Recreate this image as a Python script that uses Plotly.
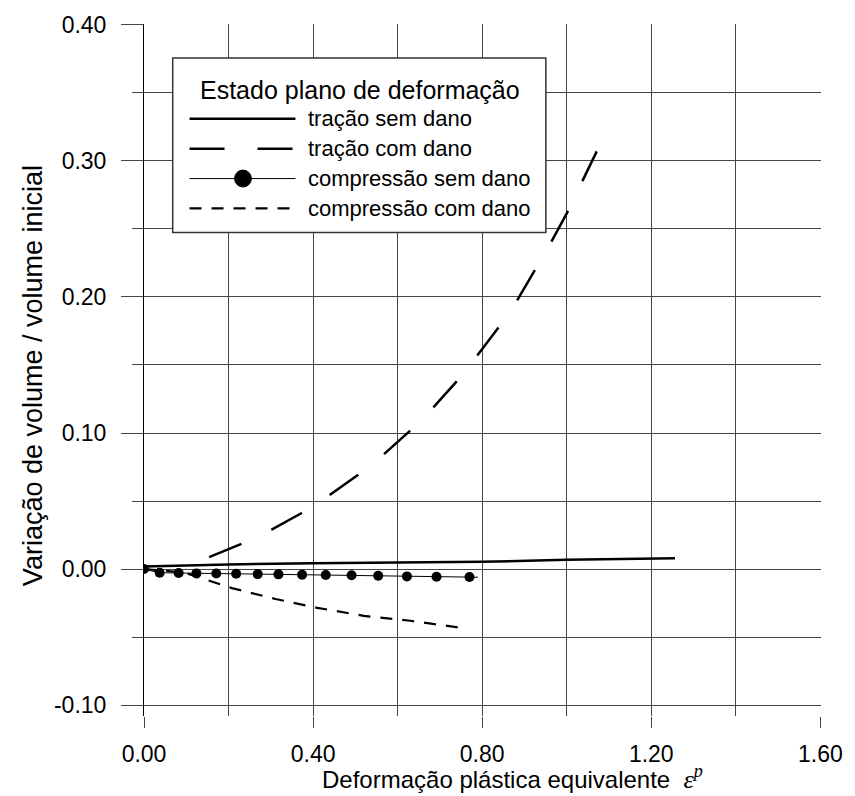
import plotly.graph_objects as go

# Volume change vs. equivalent plastic strain (plane strain state)
tracao_sem_x = [0.0, 0.2, 0.4, 0.8, 1.0, 1.256]
tracao_sem_y = [0.0018, 0.0034, 0.0042, 0.0053, 0.0068, 0.0080]

tracao_com_x = [0.154, 0.229, 0.302, 0.372, 0.437, 0.505, 0.566, 0.627, 0.685,
                0.737, 0.786, 0.835, 0.880, 0.922, 0.961, 1.001, 1.036, 1.071]
tracao_com_y = [0.0088, 0.0183, 0.029, 0.041, 0.054, 0.069, 0.084, 0.101, 0.119,
                0.137, 0.156, 0.176, 0.196, 0.218, 0.239, 0.262, 0.284, 0.307]

comp_sem_x = [0.0, 0.037, 0.082, 0.124, 0.171, 0.218, 0.269, 0.318, 0.374,
              0.430, 0.491, 0.554, 0.622, 0.692, 0.770]
comp_sem_y = [0.0, -0.0027, -0.0029, -0.0032, -0.0033, -0.0034, -0.0037, -0.0039,
              -0.0042, -0.0044, -0.0046, -0.0049, -0.0054, -0.0056, -0.0059]
comp_sem_line_x = comp_sem_x + [0.790]
comp_sem_line_y = comp_sem_y + [-0.0060]

comp_com_x = [0.0, 0.05, 0.10, 0.15, 0.208, 0.311, 0.41, 0.52, 0.63, 0.746]
comp_com_y = [0.0, -0.0012, -0.0030, -0.0080, -0.0140, -0.0220, -0.0285, -0.0344,
              -0.0380, -0.0430]

legend_title = "Estado plano de deformação"
legend_labels = ["tração sem dano", "tração com dano",
                 "compressão sem dano", "compressão com dano"]

x_ticks = [0.0, 0.4, 0.8, 1.2, 1.6]
y_ticks = [-0.1, 0.0, 0.1, 0.2, 0.3, 0.4]

FONT = "Liberation Sans, Arial, sans-serif"
GRID = "#444444"

W, H = 855, 796
ML, MR, MT, MB = 144, 27, 22, 80
PW, PH = W - ML - MR, H - MT - MB


def px(x):
    return (x - ML) / PW


def py(y):
    return (H - MB - y) / PH


fig = go.Figure()

fig.add_trace(go.Scatter(x=tracao_sem_x, y=tracao_sem_y, mode="lines",
                         line=dict(color="black", width=2.5), showlegend=False))
fig.add_trace(go.Scatter(x=tracao_com_x, y=tracao_com_y, mode="lines",
                         line=dict(color="black", width=2.5, dash="35px,33px"),
                         showlegend=False))
fig.add_trace(go.Scatter(x=comp_sem_line_x, y=comp_sem_line_y, mode="lines",
                         line=dict(color="black", width=1), showlegend=False))
fig.add_trace(go.Scatter(x=comp_sem_x, y=comp_sem_y, mode="markers",
                         marker=dict(color="black", size=10), showlegend=False))
fig.add_trace(go.Scatter(x=comp_com_x, y=comp_com_y, mode="lines",
                         line=dict(color="black", width=2.2, dash="12px,10px"),
                         showlegend=False))

# hand-drawn legend box
shapes = [dict(type="rect", xref="paper", yref="paper",
               x0=px(173), x1=px(550), y0=py(231), y1=py(56),
               line=dict(color="#333333", width=1.5), fillcolor="white", layer="above")]
annotations = [dict(text=legend_title, xref="paper", yref="paper",
                    x=px(362), y=py(88), xanchor="center", yanchor="middle",
                    showarrow=False, font=dict(family=FONT, size=25, color="black"))]
row_y = [117, 147, 177, 207]
dashes = ["solid", "35px,33px", "solid", "12px,10px"]
widths = [2.5, 2.5, 1, 2.2]
for lab, ry, d, w in zip(legend_labels, row_y, dashes, widths):
    shapes.append(dict(type="line", xref="paper", yref="paper",
                       x0=px(190), x1=px(297), y0=py(ry), y1=py(ry),
                       line=dict(color="black", width=w, dash=d), layer="above"))
    annotations.append(dict(text=lab, xref="paper", yref="paper",
                            x=px(308), y=py(ry), xanchor="left", yanchor="middle",
                            showarrow=False,
                            font=dict(family=FONT, size=22, color="black")))
shapes.append(dict(type="circle", xref="paper", yref="paper",
                   x0=px(235.5), x1=px(252.5), y0=py(185.5), y1=py(168.5),
                   line=dict(color="black", width=1), fillcolor="black", layer="above"))

# axis titles
annotations.append(dict(
    text="Deformação plástica equivalente  "
         "<span style='font-family:Liberation Serif, Times New Roman, serif;font-size:26px'>"
         "<i>ε<sup>p</sup></i></span>",
    xref="paper", yref="paper", x=px(322), y=py(796), xanchor="left", yanchor="bottom",
    showarrow=False, font=dict(family=FONT, size=24, color="black")))
annotations.append(dict(
    text="Variação de volume / volume inicial", textangle=-90,
    xref="paper", yref="paper", x=px(32), y=py(375), xanchor="center", yanchor="middle",
    showarrow=False, font=dict(family=FONT, size=27, color="black")))

fig.update_layout(
    width=W, height=H,
    margin=dict(l=ML, r=MR, t=MT, b=MB, pad=0),
    plot_bgcolor="white", paper_bgcolor="white",
    font=dict(family=FONT, size=23, color="black"),
    shapes=shapes, annotations=annotations,
    showlegend=False,
)
fig.update_xaxes(
    range=[0, 1.6015], tickvals=x_ticks, ticktext=[f"{v:.2f}" for v in x_ticks],
    ticks="outside", ticklen=11, tickcolor=GRID, tickwidth=1,
    showgrid=True, gridcolor=GRID, gridwidth=1, zeroline=False, showline=False,
    ticklabelstandoff=6,
    minor=dict(dtick=0.2, tick0=0, showgrid=True, gridcolor=GRID, gridwidth=1, ticks=""),
)
fig.update_yaxes(
    range=[-0.108, 0.4006], tickvals=y_ticks, ticktext=[f"{v:.2f}" for v in y_ticks],
    ticks="outside", ticklen=22, tickcolor=GRID, tickwidth=1,
    showgrid=True, gridcolor=GRID, gridwidth=1, zeroline=False,
    showline=True, linecolor="black", linewidth=1,
    ticklabelstandoff=10,
    minor=dict(dtick=0.05, tick0=0, showgrid=True, gridcolor=GRID, gridwidth=1,
               ticks="outside", ticklen=11, tickcolor=GRID),
)

fig.write_html("out.html")
